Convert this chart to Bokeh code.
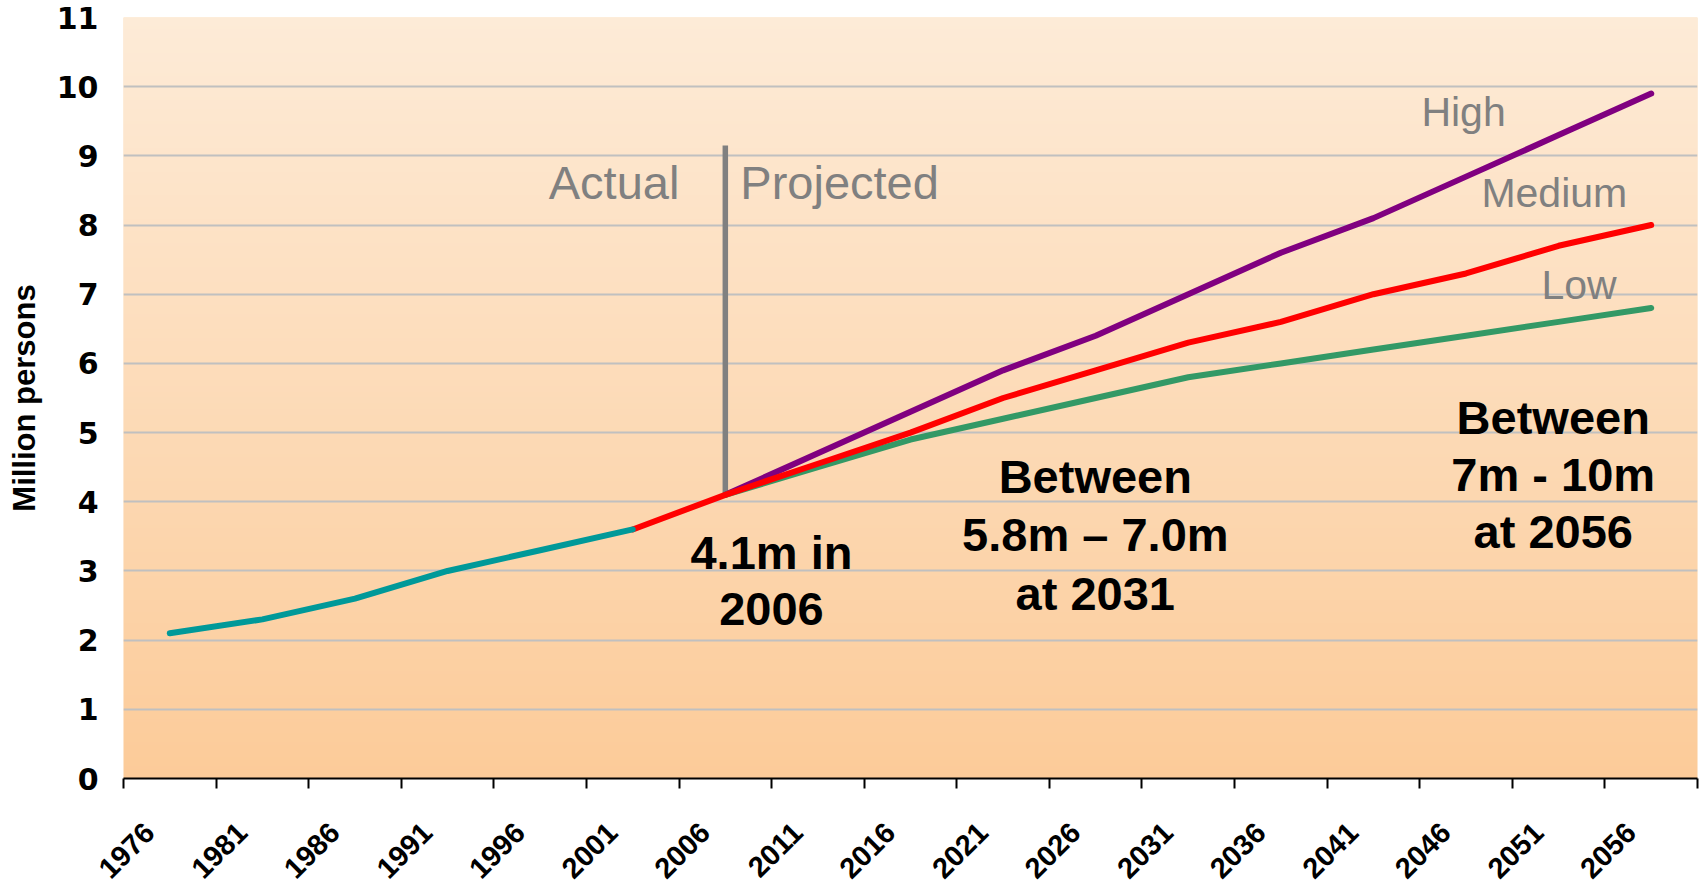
import numpy as np
from math import pi
from bokeh.plotting import figure
from bokeh.models import Range1d, FixedTicker
from bokeh.core.properties import value
from bokeh.embed import file_html
from bokeh.resources import INLINE

# ---------------- data ----------------
years = [1976, 1981, 1986, 1991, 1996, 2001, 2006, 2011, 2016,
         2021, 2026, 2031, 2036, 2041, 2046, 2051, 2056]

actual_years = [1976, 1981, 1986, 1991, 1996, 2001]
actual = [2.1, 2.3, 2.6, 3.0, 3.3, 3.6]

medium_years = [2001, 2006, 2011, 2016, 2021, 2026, 2031, 2036, 2041, 2046, 2051, 2056]
medium = [3.6, 4.1, 4.55, 5.0, 5.5, 5.9, 6.3, 6.6, 7.0, 7.3, 7.7, 8.0]

proj_years = [2006, 2011, 2016, 2021, 2026, 2031, 2036, 2041, 2046, 2051, 2056]
high = [4.1, 4.7, 5.3, 5.9, 6.4, 7.0, 7.6, 8.1, 8.7, 9.3, 9.9]
low = [4.1, 4.5, 4.9, 5.2, 5.5, 5.8, 6.0, 6.2, 6.4, 6.6, 6.8]

y_ticks = [0, 1, 2, 3, 4, 5, 6, 7, 8, 9, 10, 11]

# ---------------- figure ----------------
x0 = years[0] - 2.5
x1 = years[-1] + 2.5
p = figure(width=1703, height=890, output_backend="svg", toolbar_location=None,
           x_range=Range1d(x0, x1), y_range=Range1d(0, 11),
           min_border_left=123, min_border_right=6, min_border_top=17,
           min_border_bottom=110)
p.outline_line_color = None
p.border_fill_color = "white"
p.background_fill_color = "#FDDDBA"

# background vertical gradient
n = 256
t = np.linspace(0, 1, n)
bottom_c = np.array([252, 203, 153])
top_c = np.array([253, 235, 215])
img = np.zeros((n, 1), dtype=np.uint32)
view = img.view(dtype=np.uint8).reshape((n, 1, 4))
for i in range(n):
    c = bottom_c + (top_c - bottom_c) * t[i]
    view[i, 0, 0] = int(round(c[0]))
    view[i, 0, 1] = int(round(c[1]))
    view[i, 0, 2] = int(round(c[2]))
    view[i, 0, 3] = 255
p.image_rgba(image=[img], x=x0, y=0, dw=x1 - x0, dh=11, level="image")

# grid
p.xgrid.visible = False
p.ygrid.ticker = FixedTicker(ticks=y_ticks[1:])
p.ygrid.grid_line_color = "#C0C0C0"
p.ygrid.grid_line_width = 2

# y axis
p.yaxis.ticker = FixedTicker(ticks=y_ticks)
p.yaxis.axis_line_color = None
p.yaxis.major_tick_line_color = None
p.yaxis.minor_tick_line_color = None
p.yaxis.major_tick_out = 0
p.yaxis.major_tick_in = 0
p.yaxis.major_label_standoff = 25
p.yaxis.major_label_text_font = "DejaVu Sans"
p.yaxis.major_label_text_font_style = "bold"
p.yaxis.major_label_text_font_size = "30px"
p.yaxis.major_label_text_color = "black"
p.yaxis.axis_label = "Million persons"
p.yaxis.axis_label_text_font = "Liberation Sans"
p.yaxis.axis_label_text_font_style = "bold"
p.yaxis.axis_label_text_font_size = "31px"
p.yaxis.axis_label_text_color = "black"
p.yaxis.axis_label_standoff = 12

# x axis: tick marks between categories, rotated labels near category centres
label_pos = [y - 1.1 for y in years]
bounds = [x0 + 5 * k for k in range(len(years) + 1)]
p.xaxis.ticker = FixedTicker(ticks=label_pos, minor_ticks=bounds)
p.xaxis.major_label_overrides = {lp: str(y) for lp, y in zip(label_pos, years)}
p.xaxis.major_label_orientation = pi / 4
p.xaxis.major_tick_out = 0
p.xaxis.major_tick_in = 0
p.xaxis.major_tick_line_color = None
p.xaxis.minor_tick_out = 10
p.xaxis.minor_tick_in = 0
p.xaxis.minor_tick_line_color = "black"
p.xaxis.minor_tick_line_width = 2
p.xaxis.axis_line_color = "black"
p.xaxis.axis_line_width = 2
p.xaxis.major_label_standoff = 39
p.xaxis.major_label_text_font = "Liberation Sans"
p.xaxis.major_label_text_font_style = "bold"
p.xaxis.major_label_text_font_size = "29px"
p.xaxis.major_label_text_color = "black"

# vertical divider actual / projected
p.segment(x0=[proj_years[0]], y0=[high[0]], x1=[proj_years[0]], y1=[9.15],
          line_color="#808080", line_width=5.5)

# lines
lw = 6
p.line(proj_years, high, line_color="#800080", line_width=lw, line_cap="round", line_join="round")
p.line(proj_years, low, line_color="#339966", line_width=lw, line_cap="round", line_join="round")
p.line(medium_years, medium, line_color="#FF0000", line_width=lw, line_cap="round", line_join="round")
p.line(actual_years, actual, line_color="#009999", line_width=lw, line_cap="round", line_join="round")

# gray labels
gray = "#808080"
p.text(x=[2003.52], y=[8.62], text=["Actual"], text_font=value("Liberation Sans"),
       text_font_size="47px", text_color=gray, text_align="right", text_baseline="alphabetic")
p.text(x=[2006.81], y=[8.62], text=["Projected"], text_font=value("Liberation Sans"),
       text_font_size="47px", text_color=gray, text_align="left", text_baseline="alphabetic")
p.text(x=[2043.59, 2046.83, 2050.07], y=[9.64, 8.46, 7.14], text=["High", "Medium", "Low"],
       text_font=value("Liberation Sans"), text_font_size="41px", text_color=gray,
       text_align="left", text_baseline="alphabetic")

# bold annotations
ann_x = [2008.49, 2008.49, 2025.98, 2025.98, 2025.98, 2050.71, 2050.71, 2050.71]
ann_y = [3.27, 2.45, 4.36, 3.52, 2.67, 5.22, 4.40, 3.57]
ann_t = ["4.1m in", "2006", "Between", "5.8m \u2013 7.0m", "at 2031",
         "Between", "7m - 10m", "at 2056"]
p.text(x=ann_x, y=ann_y, text=ann_t, text_font=value("Liberation Sans"),
       text_font_style="bold", text_font_size="47px", text_color="black",
       text_align="center", text_baseline="alphabetic")

open("out.html", "w").write(file_html(p, INLINE))
